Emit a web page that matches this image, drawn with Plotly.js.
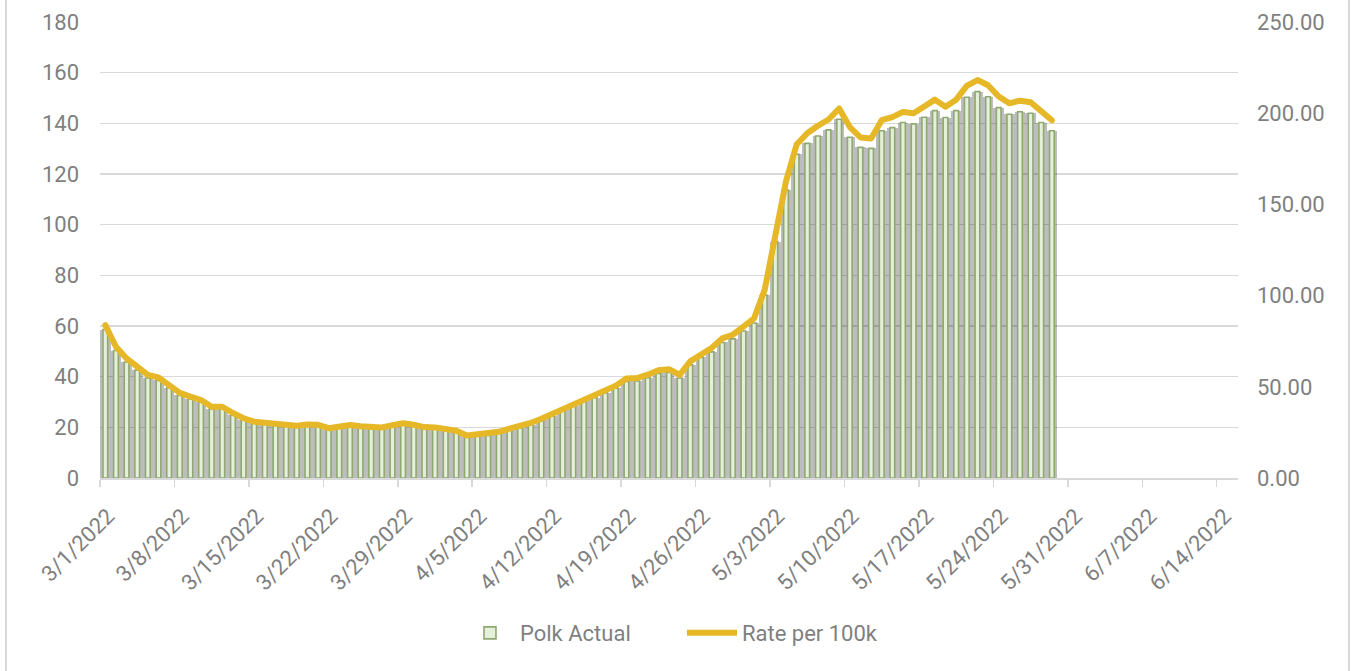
<!DOCTYPE html>
<html>
<head>
<meta charset="utf-8">
<script src="https://cdn.plot.ly/plotly-3.0.1.min.js"></script>
<style>
  html, body { margin: 0; padding: 0; background: #ffffff; }
  #wrap { position: relative; width: 1352px; height: 671px; }
  #chart { width: 1352px; height: 671px; }
  #frame { position: absolute; left: 5px; top: 0; width: 1341px; height: 671px;
           border-left: 2px solid #d9d9d9; border-right: 2px solid #d9d9d9; pointer-events: none; }
  .scatterlayer path.js-line { stroke-linejoin: round; stroke-linecap: round; }
</style>
</head>
<body>
<div id="wrap">
  <div id="chart"></div>
  <div id="frame"></div>
</div>
<script>
// ---- data ----
var dates = [
  "2022-03-01","2022-03-02","2022-03-03","2022-03-04","2022-03-05","2022-03-06","2022-03-07","2022-03-08","2022-03-09","2022-03-10",
  "2022-03-11","2022-03-12","2022-03-13","2022-03-14","2022-03-15","2022-03-16","2022-03-17","2022-03-18","2022-03-19","2022-03-20",
  "2022-03-21","2022-03-22","2022-03-23","2022-03-24","2022-03-25","2022-03-26","2022-03-27","2022-03-28","2022-03-29","2022-03-30",
  "2022-03-31","2022-04-01","2022-04-02","2022-04-03","2022-04-04","2022-04-05","2022-04-06","2022-04-07","2022-04-08","2022-04-09",
  "2022-04-10","2022-04-11","2022-04-12","2022-04-13","2022-04-14","2022-04-15","2022-04-16","2022-04-17","2022-04-18","2022-04-19",
  "2022-04-20","2022-04-21","2022-04-22","2022-04-23","2022-04-24","2022-04-25","2022-04-26","2022-04-27","2022-04-28","2022-04-29",
  "2022-04-30","2022-05-01","2022-05-02","2022-05-03","2022-05-04","2022-05-05","2022-05-06","2022-05-07","2022-05-08","2022-05-09",
  "2022-05-10","2022-05-11","2022-05-12","2022-05-13","2022-05-14","2022-05-15","2022-05-16","2022-05-17","2022-05-18","2022-05-19",
  "2022-05-20","2022-05-21","2022-05-22","2022-05-23","2022-05-24","2022-05-25","2022-05-26","2022-05-27","2022-05-28","2022-05-29"
];

var polkActual = [
  58.6, 50.3, 45.8, 42.6, 39.5, 38.5, 35.6, 32.6, 31.2, 29.9,
  27.3, 27.3, 24.9, 22.9, 21.6, 21.2, 20.7, 20.4, 20.0, 20.5,
  20.4, 19.1, 19.9, 20.3, 19.8, 19.4, 19.4, 20.2, 21.0, 20.4,
  19.5, 19.4, 18.9, 18.1, 16.3, 16.7, 16.8, 17.7, 18.9, 19.9,
  21.1, 22.7, 24.5, 26.7, 28.5, 30.2, 31.7, 33.6, 35.4, 38.1,
  38.3, 39.6, 41.3, 41.7, 39.5, 44.7, 47.6, 49.8, 53.5, 54.9,
  58.0, 61.2, 72.2, 93.3, 113.7, 127.8, 132.1, 135.0, 137.4, 141.6,
  134.5, 130.5, 130.1, 137.1, 138.3, 140.3, 139.8, 142.4, 145.0, 142.3,
  145.0, 150.3, 152.5, 150.5, 146.2, 143.6, 144.6, 144.0, 140.3, 137.1
];

var ratePer100k = [
  83.83, 71.96, 65.52, 60.94, 56.51, 55.08, 50.93, 46.64, 44.63, 42.77,
  39.05, 39.05, 35.62, 32.76, 30.90, 30.33, 29.61, 29.18, 28.61, 29.33,
  29.18, 27.32, 28.47, 29.04, 28.33, 27.75, 27.75, 28.90, 30.04, 29.18,
  27.90, 27.75, 27.04, 25.89, 23.32, 23.89, 24.03, 25.32, 27.04, 28.47,
  30.19, 32.47, 35.05, 38.20, 40.77, 43.20, 45.35, 48.07, 50.64, 54.51,
  54.79, 56.65, 59.08, 59.66, 56.51, 63.95, 68.10, 71.24, 76.54, 78.54,
  82.97, 87.55, 103.29, 133.47, 162.66, 182.83, 188.98, 193.13, 196.56, 202.57,
  192.42, 186.69, 186.12, 196.14, 197.85, 200.71, 200.00, 203.72, 207.44, 203.57,
  207.44, 215.02, 218.17, 215.31, 209.15, 205.43, 206.86, 206.01, 200.71, 196.14
];

var tickDates = [
  "2022-03-01","2022-03-08","2022-03-15","2022-03-22","2022-03-29","2022-04-05","2022-04-12","2022-04-19",
  "2022-04-26","2022-05-03","2022-05-10","2022-05-17","2022-05-24","2022-05-31","2022-06-07","2022-06-14"
];
var tickLabels = [
  "3/1/2022","3/8/2022","3/15/2022","3/22/2022","3/29/2022","4/5/2022","4/12/2022","4/19/2022",
  "4/26/2022","5/3/2022","5/10/2022","5/17/2022","5/24/2022","5/31/2022","6/7/2022","6/14/2022"
];

var seriesNames = ["Polk Actual", "Rate per 100k"];

// ---- styling ----
var FONT = "Roboto, 'Liberation Sans', sans-serif";
var TXT = "#7f7f7f";
var DAY = 86400000;

var shadow = {
  type: "bar", x: dates, y: polkActual, xaxis: "x", yaxis: "y",
  xperiod: DAY, xperiodalignment: "middle",
  width: DAY, marker: { color: "rgba(0,0,0,0.26)", line: { width: 0 } },
  showlegend: false, hoverinfo: "skip"
};

var bars = {
  type: "bar", name: seriesNames[0], x: dates, y: polkActual, xaxis: "x", yaxis: "y",
  xperiod: DAY, xperiodalignment: "middle",
  width: DAY * 0.44,
  marker: { color: "#e4f0d9", line: { color: "#90a872", width: 1.6 } }
};

var rate = {
  type: "scatter", mode: "lines", name: seriesNames[1], x: dates, y: ratePer100k,
  xaxis: "x", yaxis: "y2",
  xperiod: DAY, xperiodalignment: "middle",
  line: { color: "#e6b827", width: 6 }
};

var layout = {
  width: 1352, height: 671,
  margin: { l: 100, r: 114, t: 22, b: 193, pad: 0 },
  paper_bgcolor: "#ffffff", plot_bgcolor: "#ffffff",
  font: { family: FONT, size: 22, color: TXT },
  barmode: "overlay",
  bargap: 0,
  showlegend: true,
  legend: {
    orientation: "h", x: 0.5114, xanchor: "center", y: -0.34, yanchor: "middle",
    font: { family: FONT, size: 22, color: TXT }, traceorder: "normal",
    itemwidth: 50, entrywidth: 157
  },
  xaxis: {
    type: "date",
    range: ["2022-03-01", "2022-06-16"],
    tickmode: "array", tickvals: tickDates, ticktext: tickLabels,
    tickangle: -45,
    ticks: "outside", ticklen: 7, tickwidth: 1.5, tickcolor: "#d9d9d9",
    showline: true, linecolor: "#d9d9d9", linewidth: 1.5,
    showgrid: false, zeroline: false,
    ticklabelshift: 8, ticklabelstandoff: 8,
    tickfont: { family: FONT, size: 22, color: TXT }
  },
  yaxis: {
    range: [0, 180], dtick: 20, tick0: 0,
    showgrid: true, gridcolor: "#d9d9d9", gridwidth: 1.5,
    zeroline: false, showline: false, ticks: "",
    ticklabelstandoff: 20,
    tickfont: { family: FONT, size: 22, color: TXT }
  },
  yaxis2: {
    overlaying: "y", side: "right",
    range: [0, 250], dtick: 50, tick0: 0, tickformat: ".2f",
    showgrid: false, zeroline: false, showline: false, ticks: "",
    ticklabelstandoff: 18,
    tickfont: { family: FONT, size: 22, color: TXT }
  }
};

Plotly.newPlot("chart", [shadow, bars, rate], layout, { displayModeBar: false, staticPlot: true });
</script>
</body>
</html>
